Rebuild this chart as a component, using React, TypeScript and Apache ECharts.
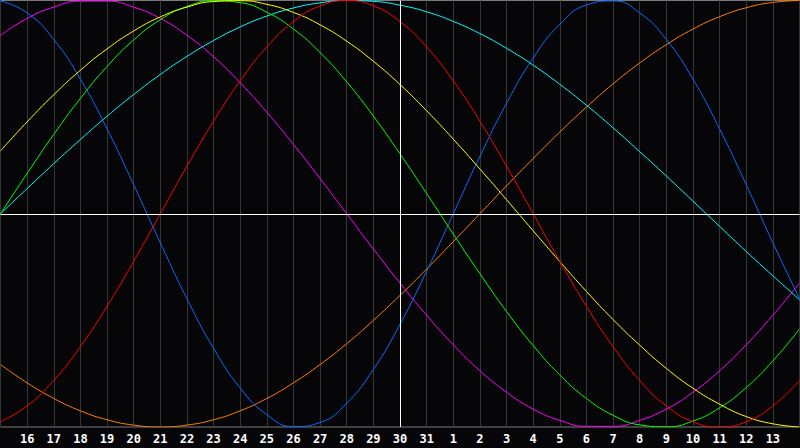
import React, { useEffect, useRef } from 'react';
import * as echarts from 'echarts';

// day labels, one per grid line (first and last sit on the frame edges)
const dayLabels = [
  '15', '16', '17', '18', '19', '20', '21', '22', '23', '24', '25', '26', '27', '28', '29', '30', '31',
  '1', '2', '3', '4', '5', '6', '7', '8', '9', '10', '11', '12', '13', '14'
];
const todayIndex = 15;

// curve values, -100..100, read at each day line
const physical = [99.8, 94.2, 81.7, 63.1, 39.8, 13.6, -13.6, -39.8, -63.1, -81.7, -94.2, -99.8, -97.9, -88.8, -73.0, -51.8, -26.9, 0, 26.9, 51.8, 73.0, 88.8, 97.9, 99.8, 94.2, 81.7, 63.1, 39.8, 13.6, -13.6, -39.8];
const emotional = [-97.5, -90.1, -78.2, -62.3, -43.4, -22.3, 0, 22.3, 43.4, 62.3, 78.2, 90.1, 97.5, 100, 97.5, 90.1, 78.2, 62.3, 43.4, 22.3, 0, -22.3, -43.4, -62.3, -78.2, -90.1, -97.5, -100, -97.5, -90.1, -78.2];
const intellectual = [0, 18.9, 37.2, 54.1, 69.0, 81.5, 91.0, 97.2, 99.9, 99.0, 94.5, 86.6, 75.6, 61.8, 45.8, 28.1, 9.5, -9.5, -28.1, -45.8, -61.8, -75.6, -86.6, -94.5, -99.0, -99.9, -97.2, -91.0, -81.5, -69.0, -54.1];
const aesthetic = [29.5, 43.1, 55.8, 67.3, 77.3, 85.7, 92.3, 96.9, 99.5, 99.9, 98.2, 94.4, 88.6, 80.9, 71.5, 60.6, 48.3, 35.0, 21.0, 6.6, -8.0, -22.4, -36.4, -49.6, -61.6, -72.5, -81.8, -89.3, -95.1, -98.5, -100];
const spiritual = [0, 11.8, 23.5, 34.8, 45.7, 55.9, 65.3, 73.8, 81.2, 87.6, 92.7, 96.5, 98.9, 100, 99.6, 97.8, 94.7, 90.2, 84.5, 77.6, 69.7, 60.7, 50.9, 40.3, 29.1, 17.7, 5.9, -5.9, -17.7, -29.1, -40.3];
const intuitive = [83.7, 91.6, 96.9, 99.7, 99.7, 96.9, 91.6, 83.7, 73.6, 61.4, 47.6, 32.5, 16.5, 0, -16.5, -32.5, -47.6, -61.4, -73.6, -83.7, -91.6, -96.9, -99.7, -99.7, -96.9, -91.6, -83.7, -73.6, -61.4, -47.6, -32.5];
const awareness = [-70.7, -79.3, -86.6, -92.4, -96.6, -99.1, -100, -99.1, -96.6, -92.4, -86.6, -79.3, -70.7, -60.9, -50.0, -38.3, -25.9, -13.1, 0, 13.1, 25.9, 38.3, 50.0, 60.9, 70.7, 79.3, 86.6, 92.4, 96.6, 99.1, 100];

const curves = [
  { name: 'awareness', values: awareness, color: '#ff8000' },
  { name: 'intuitive', values: intuitive, color: '#ff00ff' },
  { name: 'spiritual', values: spiritual, color: '#00ffff' },
  { name: 'physical', values: physical, color: '#0a6cff' },
  { name: 'intellectual', values: intellectual, color: '#00ff00' },
  { name: 'aesthetic', values: aesthetic, color: '#ffff00' },
  { name: 'emotional', values: emotional, color: '#ff0000' }
];

const App: React.FC = () => {
  const chartRef = useRef<HTMLDivElement>(null);

  useEffect(() => {
    document.body.style.margin = '0';
    if (!chartRef.current) return;
    const chart = echarts.init(chartRef.current, undefined, { renderer: 'svg' });

    const lineSeries = curves.map(c => ({
      name: c.name,
      type: 'line',
      data: c.values.map((v, i) => [i, v]),
      smooth: 0.5,
      showSymbol: false,
      silent: true,
      z: 3,
      lineStyle: { color: c.color, width: 1 },
      itemStyle: { color: c.color }
    }));

    chart.setOption({
      animation: false,
      backgroundColor: '#060608',
      grid: {
        left: 0.5,
        right: 0.5,
        top: 0.5,
        bottom: 21,
        show: true,
        borderColor: '#7a7a7a',
        borderWidth: 1
      },
      xAxis: {
        type: 'value',
        min: 0,
        max: dayLabels.length - 1,
        interval: 1,
        axisLine: { show: false },
        axisTick: { show: false },
        splitLine: { show: true, lineStyle: { color: '#363636', width: 1 } },
        axisLabel: {
          show: true,
          showMinLabel: false,
          showMaxLabel: false,
          margin: 6,
          color: '#ffffff',
          fontFamily: 'DejaVu Sans Mono',
          fontWeight: 'bold',
          fontSize: 12,
          formatter: (v: number) => dayLabels[v] ?? ''
        }
      },
      yAxis: {
        type: 'value',
        min: -100,
        max: 100,
        axisLine: { show: false },
        axisTick: { show: false },
        axisLabel: { show: false },
        splitLine: { show: false }
      },
      series: [
        {
          type: 'line',
          data: [],
          z: 2,
          silent: true,
          markLine: {
            silent: true,
            symbol: ['none', 'none'],
            label: { show: false },
            lineStyle: { color: '#ffffff', width: 1, type: 'solid' },
            data: [{ xAxis: todayIndex }, { yAxis: 0 }]
          }
        },
        ...lineSeries
      ]
    });

    return () => {
      chart.dispose();
    };
  }, []);

  return <div ref={chartRef} style={{ width: '800px', height: '448px', background: '#060608' }} />;
};

export default App;
